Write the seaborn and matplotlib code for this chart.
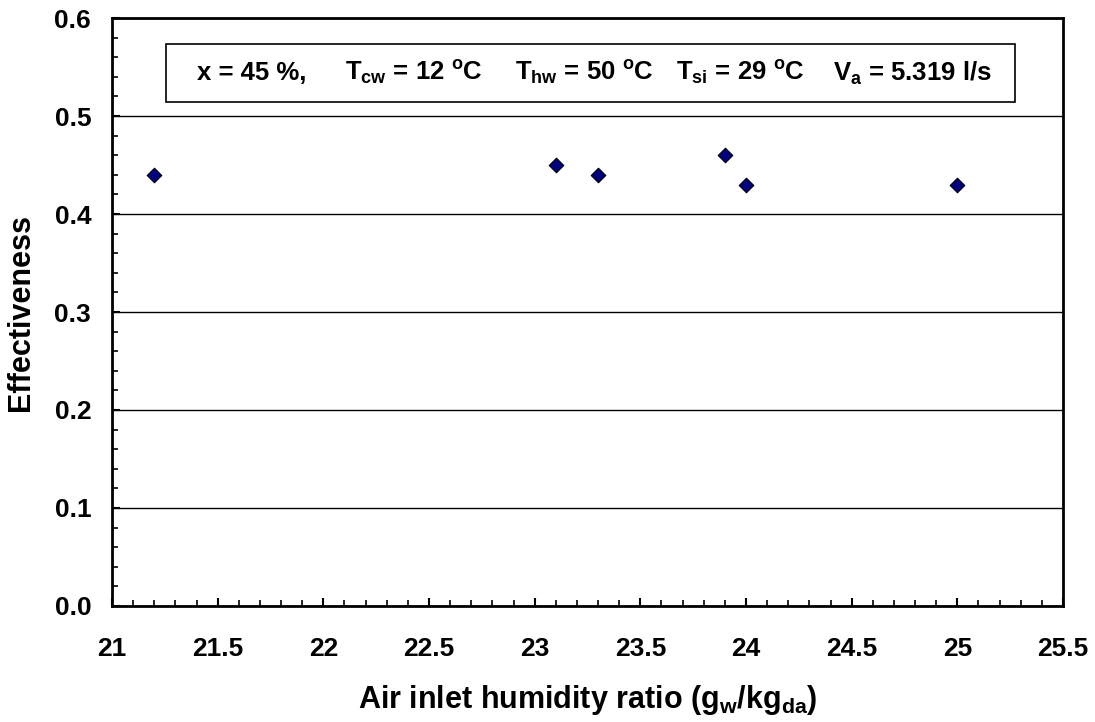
import matplotlib
matplotlib.use("Agg")
import matplotlib.pyplot as plt
from matplotlib.patches import Rectangle
from matplotlib.ticker import MultipleLocator
import seaborn as sns
import pandas as pd

# Measured effectiveness against air inlet humidity ratio
humidity_ratio = [21.2, 23.1, 23.3, 23.9, 24.0, 25.0]
effectiveness = [0.44, 0.45, 0.44, 0.46, 0.43, 0.43]

x_ticks = [21, 21.5, 22, 22.5, 23, 23.5, 24, 24.5, 25, 25.5]
x_tick_labels = ["21", "21.5", "22", "22.5", "23", "23.5", "24", "24.5", "25", "25.5"]
y_ticks = [0.0, 0.1, 0.2, 0.3, 0.4, 0.5, 0.6]
y_tick_labels = ["0.0", "0.1", "0.2", "0.3", "0.4", "0.5", "0.6"]

# Test conditions, written as separate groups across the header box
condition_texts = [
    r"x = 45 %,",
    r"T$_{cw}$ = 12 $^{o}$C",
    r"T$_{hw}$ = 50 $^{o}$C",
    r"T$_{si}$ = 29 $^{o}$C",
    r"V$_{a}$ = 5.319 l/s",
]
condition_x = [0.0894, 0.245, 0.4238, 0.593, 0.758]

df = pd.DataFrame({"humidity": humidity_ratio, "eff": effectiveness})

sns.set_theme(style="white")
plt.rcParams["font.family"] = ["Liberation Sans", "DejaVu Sans"]
plt.rcParams["font.weight"] = "bold"
plt.rcParams["mathtext.fontset"] = "custom"
plt.rcParams["mathtext.rm"] = "Liberation Sans:bold"
plt.rcParams["mathtext.it"] = "Liberation Sans:bold"
plt.rcParams["mathtext.bf"] = "Liberation Sans:bold"
for key in ["text.color", "axes.labelcolor", "xtick.color", "ytick.color"]:
    plt.rcParams[key] = "black"

fig = plt.figure(figsize=(10.95, 7.22), dpi=100)
ax = fig.add_axes([0.1023, 0.1607, 0.8685, 0.8143])

sns.scatterplot(data=df, x="humidity", y="eff", ax=ax, marker="D", s=55,
                color="#000080", edgecolor="black", linewidth=0.8, zorder=3)

ax.set_xlim(21, 25.5)
ax.set_ylim(0, 0.6)
ax.set_xticks(x_ticks)
ax.set_xticklabels(x_tick_labels)
ax.set_yticks(y_ticks)
ax.set_yticklabels(y_tick_labels)
ax.xaxis.set_minor_locator(MultipleLocator(0.1))
ax.yaxis.set_minor_locator(MultipleLocator(0.02))

ax.tick_params(axis="both", which="major", direction="in", length=6, width=1.5,
               labelsize=19, colors="black")
ax.tick_params(axis="x", which="major", pad=22)
ax.tick_params(axis="y", which="major", pad=15)
ax.tick_params(axis="both", which="minor", direction="in", length=4, width=1.2,
               colors="black")
ax.tick_params(axis="x", which="both", top=False, bottom=True)
ax.tick_params(axis="y", which="both", left=True, right=False)
for lab in ax.get_xticklabels() + ax.get_yticklabels():
    lab.set_fontweight("bold")

ax.yaxis.grid(True, color="black", linewidth=1.0)
ax.set_axisbelow(True)

for side in ["left", "bottom", "top", "right"]:
    ax.spines[side].set_visible(True)
    ax.spines[side].set_color("black")
    ax.spines[side].set_linewidth(2.0)

ax.set_xlabel(r"Air inlet humidity ratio (g$_{w}$/kg$_{da}$)", fontsize=22,
              fontweight="bold", labelpad=16, color="black")
ax.set_ylabel("Effectiveness", fontsize=22, fontweight="bold", labelpad=13,
              color="black")

# Header box with the test conditions
box = Rectangle((0.0568, 0.857), 0.8927, 0.0988, transform=ax.transAxes,
                facecolor="white", edgecolor="black", linewidth=1.2, zorder=4)
ax.add_patch(box)
for xpos, txt in zip(condition_x, condition_texts):
    ax.text(xpos, 0.906, txt, transform=ax.transAxes, ha="left", va="center",
            fontsize=18.5, fontweight="bold", color="black", zorder=5)

fig.savefig("out.png", dpi=100)
